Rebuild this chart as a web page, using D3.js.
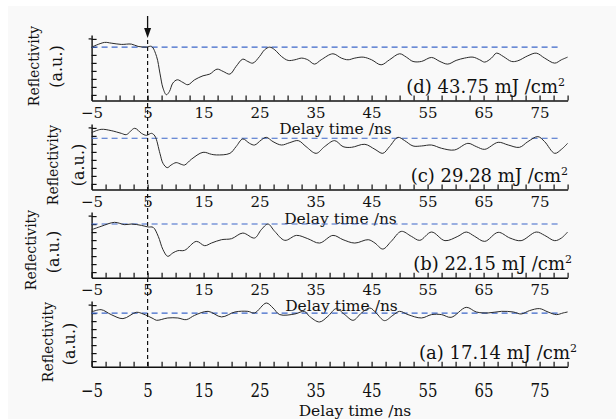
<!DOCTYPE html>
<html><head><meta charset="utf-8">
<script src="https://cdn.jsdelivr.net/npm/d3@7/dist/d3.min.js"></script>
<style>
html,body{margin:0;padding:0;background:#fff;}
svg{display:block;font-family:"DejaVu Serif",serif;}
</style></head>
<body><svg id="c" width="616" height="419"></svg>
<script>
// ---- data ----
const panelNames = ["d", "c", "b", "a"];
const panelLabels = ["(d) 43.75 mJ /cm", "(c) 29.28 mJ /cm", "(b) 22.15 mJ /cm", "(a) 17.14 mJ /cm"];
const xTickLabels = [-5, 5, 15, 25, 35, 45, 55, 65, 75];
const xMinorTicks = d3.range(-5, 80.01, 2.5);
const yTicks = [0.7, 1.7, 2.7, 3.7, 4.7, 5.7, 6.7, 7.7];
const baselineLevels = [6.67, 6.4, 6.71, 6.7];
const pumpTime = 5;

const timeD = [-5,-2.7,-1.5,0.3,2.1,3.3,4.8,5.7,6.6,7.2,7.75,8.35,8.9,9.5,10.3,11.3,12.2,13.4,14.9,16.1,17.4,18.5,19.7,20.8,22,22.9,23.8,25,25.9,26.8,27.7,28.9,30.1,31.3,32.5,33.6,34.8,36,38.1,39.6,40.8,42,43.5,45,46.7,48.2,50,51.2,52.4,53.9,55.7,57.2,58.6,60.1,61.6,63.1,64.3,65.2,66.4,67.3,68.5,70,71.1,72.9,74.4,75.9,77.7,78.9,80];
const reflD = [6.67,7.26,7.17,7.01,7.05,6.76,6.67,6.76,5.51,3.42,1.55,0.72,1.13,2.17,2.59,2.26,1.97,2.59,3.09,3.30,3.92,3.63,3.30,4.26,5.17,4.88,4.67,5.51,6.34,6.67,6.34,5.51,5.01,5.09,5.30,5.09,4.55,5.09,5.84,5.30,5.09,5.30,5.42,5.09,4.46,5.09,5.84,5.42,4.88,4.88,5.38,4.88,4.55,5.01,5.30,5.42,5.09,4.80,5.30,5.92,5.51,4.88,4.96,5.59,5.92,5.30,4.67,5.09,5.42];

const timeC = [-5,-3.3,-1.5,0.3,1.2,2.7,3.9,4.8,5.7,6.3,7.2,7.75,8.5,9.2,10.1,11,11.6,12.8,14.9,16.4,17.3,19.7,20.8,22,23.2,24.1,25.3,26.2,27.4,28.9,30.4,31.9,33.3,35.1,36.6,38.4,39.9,41.4,43.8,45.6,47,48.2,49.7,50.9,52.4,53.9,55.7,57.5,59.8,62.2,63.7,65.2,67.6,69.4,71.4,72.9,74.7,75.9,77.7,78.9,80];
const reflC = [7.11,7.52,7.36,7.02,6.86,7.65,7.02,6.77,7.02,6.69,4.52,3.27,2.73,3.06,3.36,3.15,3.06,3.77,4.65,4.40,4.32,4.52,5.36,6.32,5.77,5.56,6.19,6.52,5.98,5.56,5.86,6.11,5.36,4.52,5.36,6.11,5.36,5.27,5.65,5.02,4.52,5.36,6.52,6.11,5.44,5.44,5.56,5.15,4.94,5.77,5.36,5.02,5.90,5.56,5.27,5.98,6.61,5.98,4.52,5.02,5.77];

const timeB = [-5,-3.3,-0.9,0.9,2.1,3.9,5.1,6,6.9,7.75,8.6,9.5,10.4,11.6,13.7,15.2,16.4,18.2,20,22,24.1,25.3,26.5,27.7,29.5,31.6,33.6,35.7,38.1,39.9,42,44.4,45.6,47,48.5,50.3,52.1,53.6,55.7,58.1,60.4,61.9,63.4,65.2,67.6,69.7,71.7,74.4,75.9,77.7,78.9,80];
const reflB = [6.00,6.42,6.92,6.63,6.71,6.54,6.34,6.29,5.17,3.50,2.67,3.09,3.38,3.42,4.54,4.00,4.33,4.75,4.88,5.58,4.96,6.00,6.71,5.79,4.67,5.29,4.88,4.33,5.29,4.75,4.33,4.75,4.33,3.58,4.54,5.79,5.17,4.67,5.71,4.63,5.17,5.71,5.17,4.54,5.67,4.96,4.63,5.71,5.29,4.63,4.96,5.71];

const timeA = [-5,-3.3,-1.5,0.6,3,4.2,6,6.6,8.6,10.4,11.9,13.4,15.8,18.2,20.6,22.9,24.1,26.2,27.4,28.6,31.3,33,33.9,35.7,37.2,38.7,40.2,41.7,43.2,44.7,45.8,47.3,48.8,50,51.5,53.9,55.7,57.5,59.2,61.9,63.7,65.8,68.2,70.3,71.7,73.2,75,76.5,78,79.2,80];
const reflA = [6.84,7.13,6.51,6.01,6.80,6.59,6.01,5.80,6.09,6.09,5.88,6.42,6.92,6.22,6.84,6.92,6.72,7.96,7.34,6.51,6.59,6.92,6.30,5.59,6.30,7.26,6.51,5.80,6.72,7.34,6.72,5.76,6.42,6.92,6.51,6.09,6.51,6.51,6.17,7.42,6.84,6.72,6.92,6.84,6.59,7.01,7.26,6.84,6.51,6.72,6.84];

const seriesTimes = [timeD, timeC, timeB, timeA];
const seriesRefl = [reflD, reflC, reflB, reflA];

// ---- layout ----
const svg = d3.select("#c");
svg.append("rect").attr("x", 8).attr("y", 6).attr("width", 608).attr("height", 413).attr("fill", "#f9f9f9");

const x = d3.scaleLinear().domain([-5, 80]).range([91.6, 567.6]);
const bottoms = [100.5, 189.5, 277.7, 366.7];
const labelPos = [[565, 93], [568, 181.7], [572, 270], [577, 359.3]];
const xTitlePos = [[335.5, 133.5], [340.5, 223.5], [341.5, 311], [355, 415.5]];
const yTitlePos = [[38.6, 66, 62, 66.5], [57.6, 165, 84, 165], [35.6, 250, 59, 252], [52.6, 342, 75, 344]];
const fmt = d => d < 0 ? "\u2212" + Math.abs(d) : String(d);

panelNames.forEach((name, i) => {
  const yb = bottoms[i];
  const y = d3.scaleLinear().domain([0, 8.2]).range([yb, yb - 65.6]);
  const g = svg.append("g");

  // x axis
  const xa = g.append("g").attr("transform", `translate(0,${yb})`)
    .call(d3.axisBottom(x).tickValues(xMinorTicks).tickSizeInner(-5).tickSizeOuter(0)
      .tickFormat(d => xTickLabels.includes(d) ? fmt(d) : ""));
  xa.select(".domain").attr("stroke", "#111").attr("stroke-width", 1.4);
  xa.selectAll(".tick line").attr("stroke", "#111").attr("stroke-width", 1.2);
  const txt = xa.selectAll(".tick text").attr("fill", "#111").attr("font-size", 15)
    .attr("font-family", "DejaVu Serif").attr("dy", 0);
  if (i === 3) txt.attr("y", 24).attr("transform", "scale(1,1.25)");
  else txt.attr("y", 17.5);

  // y axis
  const ya = g.append("g").attr("transform", `translate(${x(-5)},0)`)
    .call(d3.axisLeft(y).tickValues(yTicks).tickSizeInner(-5).tickSizeOuter(0).tickFormat(""));
  ya.select(".domain").attr("stroke", "#111").attr("stroke-width", 1.4);
  ya.selectAll(".tick line").attr("stroke", "#111").attr("stroke-width", 1.2);
  g.append("line").attr("x1", x(-5) - 3).attr("x2", x(-5))
    .attr("y1", y(yTicks[yTicks.length - 1])).attr("y2", y(yTicks[yTicks.length - 1]))
    .attr("stroke", "#111").attr("stroke-width", 1.2);

  // baseline (blue dashed)
  g.append("line").attr("x1", x(-5)).attr("x2", x(78.5))
    .attr("y1", y(baselineLevels[i])).attr("y2", y(baselineLevels[i]))
    .attr("stroke", "#3d67c9").attr("stroke-width", 1.1).attr("stroke-dasharray", "6,4");

  // curve
  const pts = seriesTimes[i].map((t, k) => [t, seriesRefl[i][k]]);
  g.append("path").datum(pts)
    .attr("fill", "none").attr("stroke", "#2a2a2a").attr("stroke-width", 1)
    .attr("d", d3.line().x(d => x(d[0])).y(d => y(d[1])).curve(d3.curveCatmullRom.alpha(0.5)));

  // panel label
  const lt = g.append("text").attr("x", labelPos[i][0]).attr("y", labelPos[i][1])
    .attr("text-anchor", "end").attr("font-size", 18).attr("fill", "#111");
  lt.append("tspan").text(panelLabels[i]);
  lt.append("tspan").attr("font-size", 11).attr("dy", -7).text("2");

  // x title
  g.append("text").attr("x", xTitlePos[i][0]).attr("y", xTitlePos[i][1])
    .attr("text-anchor", "middle").attr("font-size", 15.5).attr("fill", "#111").text("Delay time /ns");

  // y title
  const yp = yTitlePos[i];
  g.append("text").attr("transform", `translate(${yp[0]},${yp[1]}) rotate(-90)`)
    .attr("text-anchor", "middle").attr("font-size", 14).attr("fill", "#111").text("Reflectivity");
  g.append("text").attr("transform", `translate(${yp[2]},${yp[3]}) rotate(-90)`)
    .attr("text-anchor", "middle").attr("font-size", 16).attr("fill", "#111").text("(a.u.)");
});

// pump marker: vertical dashed line and arrow
const xp = x(pumpTime);
svg.append("line").attr("x1", xp).attr("x2", xp).attr("y1", 40).attr("y2", bottoms[3])
  .attr("stroke", "#111").attr("stroke-width", 1.2).attr("stroke-dasharray", "4,3");
svg.append("line").attr("x1", xp).attr("x2", xp).attr("y1", 16).attr("y2", 30)
  .attr("stroke", "#111").attr("stroke-width", 1.3);
svg.append("path").attr("d", `M${xp - 3.5},28 L${xp + 3.5},28 L${xp},38 Z`).attr("fill", "#111");
</script></body></html>
